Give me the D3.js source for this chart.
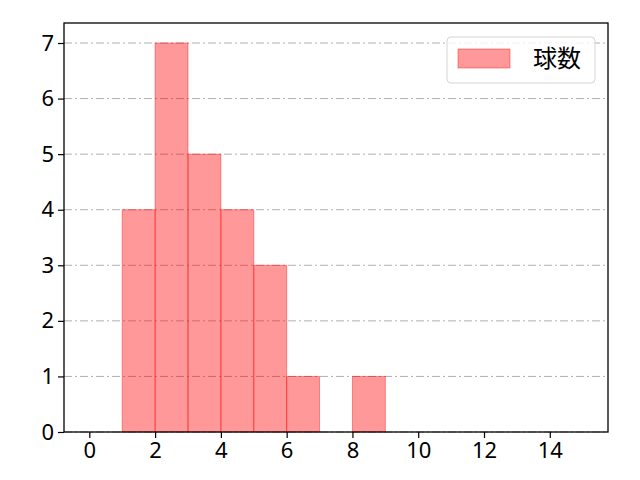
<!DOCTYPE html>
<html>
<head>
<meta charset="utf-8">
<script src="https://cdn.jsdelivr.net/npm/d3@7"></script>
<style>
  body { margin: 0; background: #fff; }
</style>
</head>
<body>
<svg width="640" height="480"></svg>
<script>
// histogram bins (left edges) and counts
const binStarts = [1, 2, 3, 4, 5, 6, 7, 8];
const counts = [4, 7, 5, 4, 3, 1, 0, 1];
const binWidth = 1;
const xTicks = [0, 2, 4, 6, 8, 10, 12, 14];
const yTicks = [0, 1, 2, 3, 4, 5, 6, 7];
const seriesName = '球数';

const tickFont = '"Noto Sans", "DejaVu Sans", sans-serif';
const cjkFont = '"Noto Sans CJK JP", "Noto Sans", sans-serif';
const svg = d3.select('svg');
const margin = { top: 23, right: 32, bottom: 48, left: 64 };
const width = 640 - margin.left - margin.right;
const height = 480 - margin.top - margin.bottom;

const x = d3.scaleLinear().domain([-0.77, 15.77]).range([0, width]);
const y = d3.scaleLinear().domain([0, 7.36]).range([height, 0]);

const g = svg.append('g').attr('transform', `translate(${margin.left},${margin.top})`);

// grid lines (y only, dash-dot)
g.append('g')
    .selectAll('line')
    .data(yTicks)
    .join('line')
    .attr('x1', 0).attr('x2', width)
    .attr('y1', d => y(d)).attr('y2', d => y(d))
    .attr('stroke', '#b0b0b0')
    .attr('stroke-width', 1)
    .attr('stroke-dasharray', '8,3,2,3');

// bars
const bars = binStarts.map((s, i) => ({ s, c: counts[i] })).filter(d => d.c > 0);
g.append('g')
    .selectAll('rect')
    .data(bars)
    .join('rect')
    .attr('x', d => x(d.s))
    .attr('width', d => x(d.s + binWidth) - x(d.s))
    .attr('y', d => y(d.c))
    .attr('height', d => y(0) - y(d.c))
    .attr('fill', 'red').attr('fill-opacity', 0.4)
    .attr('stroke', 'red').attr('stroke-opacity', 0.4)
    .attr('stroke-width', 1);

// axes
const xAxis = d3.axisBottom(x).tickValues(xTicks).tickSize(6).tickPadding(4);
const yAxis = d3.axisLeft(y).tickValues(yTicks).tickSize(6).tickPadding(4);

const gx = g.append('g').attr('transform', `translate(0,${height})`).call(xAxis);
const gy = g.append('g').call(yAxis);
[gx, gy].forEach(a => {
    a.attr('font-family', tickFont).attr('font-size', 22);
    a.select('.domain').remove();
    a.selectAll('.tick line').attr('stroke', '#000').attr('stroke-width', 1.2);
    a.selectAll('.tick text').attr('fill', '#000');
});

// frame
g.append('rect')
    .attr('width', width).attr('height', height)
    .attr('fill', 'none').attr('stroke', '#000').attr('stroke-width', 1.3);

// legend
const lg = g.append('g').attr('transform', `translate(${447 - margin.left},${37 - margin.top})`);
lg.append('rect')
    .attr('width', 148).attr('height', 46).attr('rx', 4)
    .attr('fill', '#fff').attr('fill-opacity', 0.8)
    .attr('stroke', '#d5d5d5').attr('stroke-width', 1);
lg.append('rect')
    .attr('x', 11).attr('y', 12).attr('width', 52).attr('height', 19)
    .attr('fill', 'red').attr('fill-opacity', 0.4)
    .attr('stroke', 'red').attr('stroke-opacity', 0.4);
lg.append('text')
    .attr('x', 86).attr('y', 22)
    .attr('dy', '0.35em')
    .attr('font-family', cjkFont)
    .attr('font-size', 24)
    .attr('fill', '#000')
    .text(seriesName);
</script>
</body>
</html>
